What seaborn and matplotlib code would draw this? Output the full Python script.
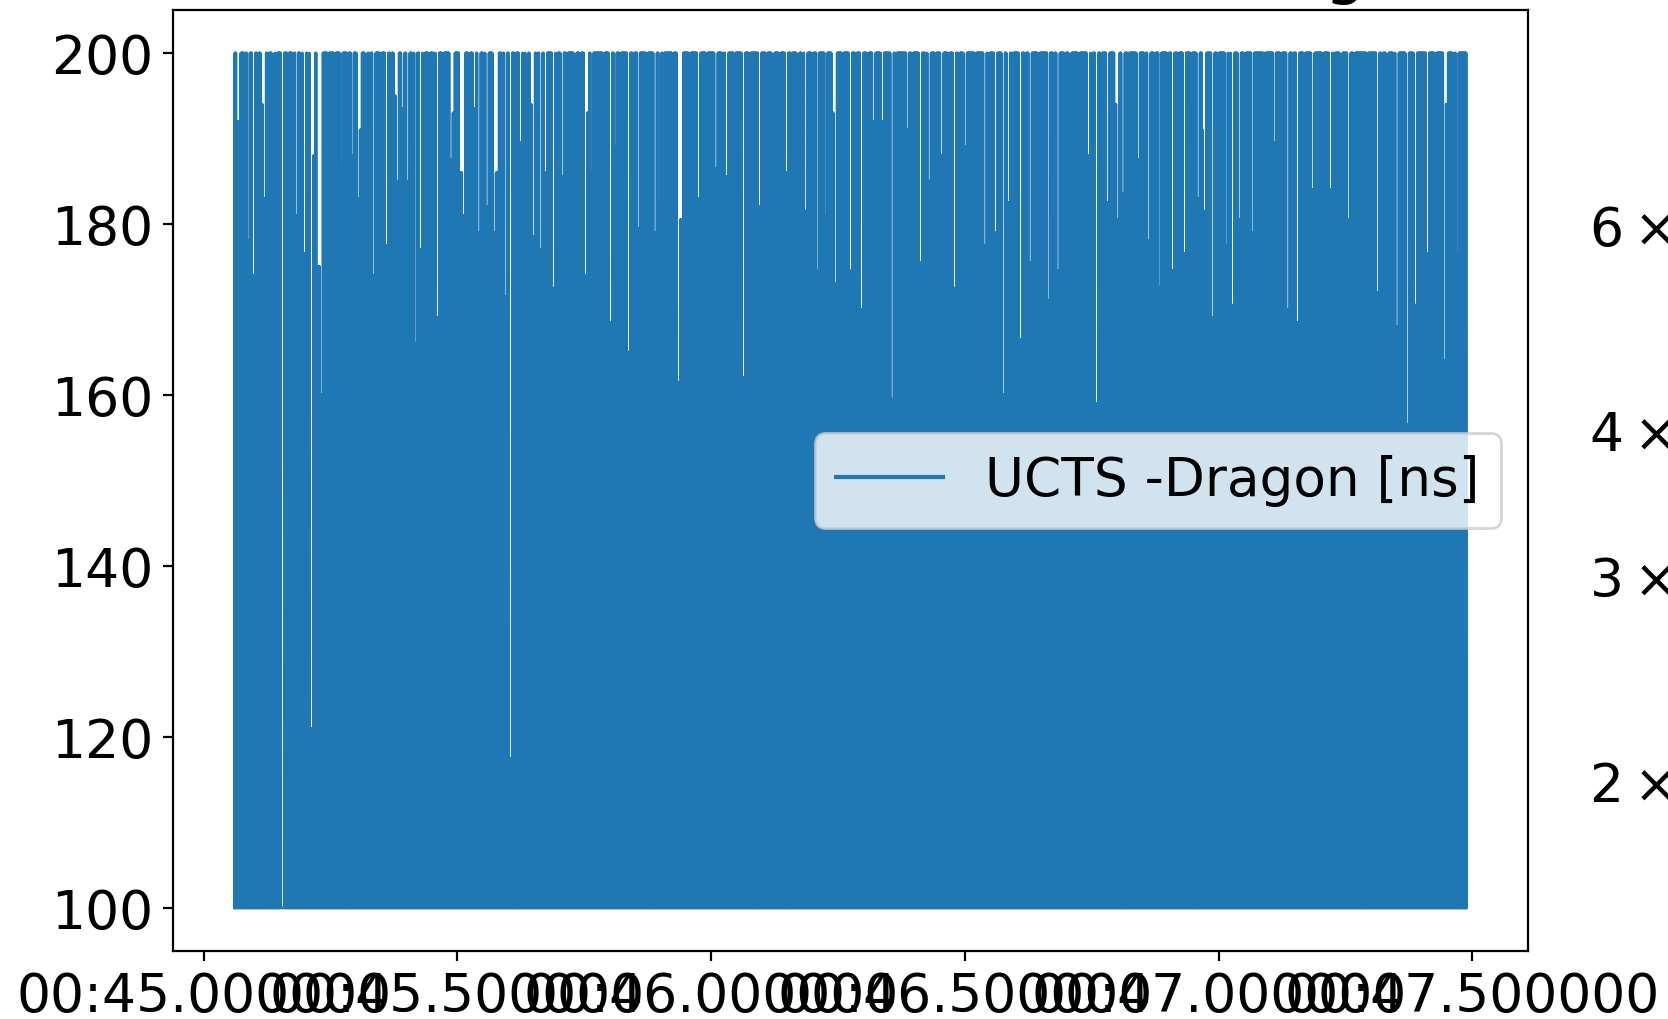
import matplotlib

matplotlib.use("Agg")
import matplotlib.dates as mdates
import matplotlib.pyplot as plt
import numpy as np
import pandas as pd
import seaborn as sns

# event stream window (seconds after 03:00:00)
run_start = "2021-02-14 03:00:00"
t_first_s = 45.061
t_last_s = 47.488
sample_step_ms = 0.5
low_ns = 100.0
high_ns = 200.0

# clear gaps seen from the top of the band: where (s) and how deep (ns)
dip_t = [
    45.068, 45.088, 45.099, 45.120, 45.137, 45.156, 45.183, 45.199, 45.212, 45.225,
    45.232, 45.271, 45.293, 45.304, 45.320, 45.336, 45.361, 45.382, 45.392, 45.402,
    45.418, 45.428, 45.461, 45.487, 45.506, 45.513, 45.533, 45.542, 45.559, 45.572,
    45.578, 45.595, 45.605, 45.624, 45.637, 45.650, 45.664, 45.673,
    45.690, 45.706, 45.732, 45.752, 45.765, 45.801, 45.811, 45.837, 45.857, 45.889,
    45.899, 45.935, 45.942, 45.975, 46.010, 46.030, 46.063, 46.096, 46.122, 46.148,
    46.171, 46.187, 46.210, 46.226, 46.245, 46.275, 46.297, 46.321,
    46.337, 46.356, 46.387, 46.413, 46.429, 46.455, 46.480, 46.501, 46.539, 46.560,
    46.575, 46.586, 46.609, 46.629, 46.665, 46.684, 46.707, 46.743, 46.760, 46.782,
    46.801, 46.812, 46.841, 46.862, 46.884, 46.910, 46.932, 46.959,
    46.972, 46.989, 47.015, 47.028, 47.041, 47.067, 47.110, 47.136, 47.156, 47.185,
    47.221, 47.241, 47.257, 47.313, 47.332, 47.352, 47.371, 47.388, 47.411, 47.445,
    47.470,
]
dip_floor = [
    192, 178, 174, 183, 185, 100, 181, 176.5, 121, 175,
    160, 160, 188, 183, 185, 174, 177.5, 185, 193.5, 185,
    166, 177, 169, 187.5, 186, 181, 193.5, 179, 182, 179,
    186, 171.5, 117.5, 189.5, 163.5, 178.5, 177, 186,
    172.5, 185.5, 158, 174, 186, 168.5, 189, 165, 179.5, 179,
    182.5, 161.5, 180.5, 183, 186.5, 185.5, 162, 182, 109.5, 186,
    176.5, 181.5, 174.5, 181, 173, 174.5, 170, 192,
    192, 159.5, 191, 175.5, 185, 188, 172.5, 189, 177.5, 179,
    160, 182.5, 166.5, 175.5, 171, 174.5, 183, 188, 159, 182.5,
    180.5, 183.5, 187.5, 178, 172.5, 174.5, 176.5, 183,
    181.5, 169, 177.5, 170.5, 180.5, 179, 189.5, 170, 168.5, 184,
    184, 185, 180.5, 172, 159.5, 168, 156.5, 170.5, 176.5, 164,
    176.5,
]

# faint fringe along the top edge (short, shallow gaps)
fringe_t = [
    45.071, 45.081, 45.107, 45.114, 45.127, 45.143, 45.166, 45.176, 45.192, 45.206,
    45.218, 45.245, 45.258, 45.284, 45.310, 45.327, 45.349, 45.369, 45.376, 45.412,
    45.434, 45.444, 45.454, 45.471, 45.493, 45.523, 45.552, 45.588, 45.614, 45.631,
    45.644, 45.657,
    45.696, 45.716, 45.742, 45.758, 45.788, 45.821, 45.847, 45.873, 45.906, 45.925,
    45.958, 45.991, 46.023, 46.046, 46.076, 46.109, 46.135, 46.158, 46.180, 46.200,
    46.239, 46.259, 46.285, 46.308,
    46.364, 46.396, 46.423, 46.442, 46.468, 46.488, 46.521, 46.547, 46.593, 46.619,
    46.645, 46.675, 46.697, 46.724, 46.750, 46.769, 46.796, 46.822, 46.855, 46.874,
    46.900, 46.920, 46.946, 46.969,
    46.998, 47.021, 47.051, 47.090, 47.123, 47.146, 47.169, 47.205, 47.228, 47.267,
    47.293, 47.322, 47.345, 47.427, 47.450, 47.463,
]
fringe_floor = [
    190, 193, 191, 194, 189, 192, 190, 195, 191, 193,
    188, 192, 190, 194, 191, 189, 193, 190, 195, 192,
    189, 194, 191, 190, 193, 188, 192, 190, 191, 189,
    194, 192,
    191, 194, 190, 193, 189, 192, 190, 194, 191, 188,
    193, 190, 195, 191, 189, 193, 190, 194, 192, 189,
    193, 190, 192, 194,
    190, 193, 189, 192, 194, 190, 193, 189, 192, 190,
    194, 191, 189, 193, 190, 192, 194, 190, 193, 189,
    192, 190, 194, 191,
    192, 190, 194, 191, 193, 189, 192, 190, 194, 191,
    189, 193, 190, 192, 194, 190,
]

# time span covered by one gap
dip_width_ms = 7.0
fringe_width_ms = 4.5

legend_label = "UCTS -Dragon [ns]"
title_text = "Run 1619 time diffs, UCT timing"

# build the sample stream: lows and highs alternate, highs pulled down at the gaps
n_samples = int(round((t_last_s - t_first_s) * 1000 / sample_step_ms)) + 1
seconds = t_first_s + np.arange(n_samples) * sample_step_ms / 1000.0
values = np.full(n_samples, low_ns)
values[1::2] = high_ns
peaks = np.arange(n_samples) % 2 == 1
for centres, floors, width in (
    (dip_t, dip_floor, dip_width_ms),
    (fringe_t, fringe_floor, fringe_width_ms),
):
    for t, floor in zip(centres, floors):
        hit = peaks & (np.abs(seconds - t) * 1000.0 <= width / 2.0)
        values[hit] = np.minimum(values[hit], floor)
times = pd.Timestamp(run_start) + pd.to_timedelta(seconds, unit="s")
df = pd.DataFrame({"time": times, "delta": values})

plt.rcParams["font.size"] = 19.3
fig = plt.figure(figsize=(8.34, 5.1), dpi=200)
ax = fig.add_axes([0.1037, 0.067, 0.8123, 0.922])
sns.lineplot(
    data=df,
    x="time",
    y="delta",
    ax=ax,
    label=legend_label,
    estimator=None,
    sort=False,
    linewidth=1.0,
)
ax.xaxis.set_major_locator(mdates.MicrosecondLocator(interval=500000))
ax.xaxis.set_major_formatter(mdates.DateFormatter("%M:%S.%f"))
ax.set_xlabel("")
ax.set_ylabel("")
ax.set_title(title_text, pad=7)
leg = ax.legend(loc="center right", fontsize=19.2)
for handle in leg.get_lines():
    handle.set_linewidth(1.5)

# neighbouring panel (log scale), only its tick labels reach into the frame
ax2 = fig.add_axes([1.076, 0.067, 0.8, 0.922])
ax2.set_yscale("log")
ax2.set_ylim(14.3, 91.8)

fig.savefig("out.png", dpi=200)
